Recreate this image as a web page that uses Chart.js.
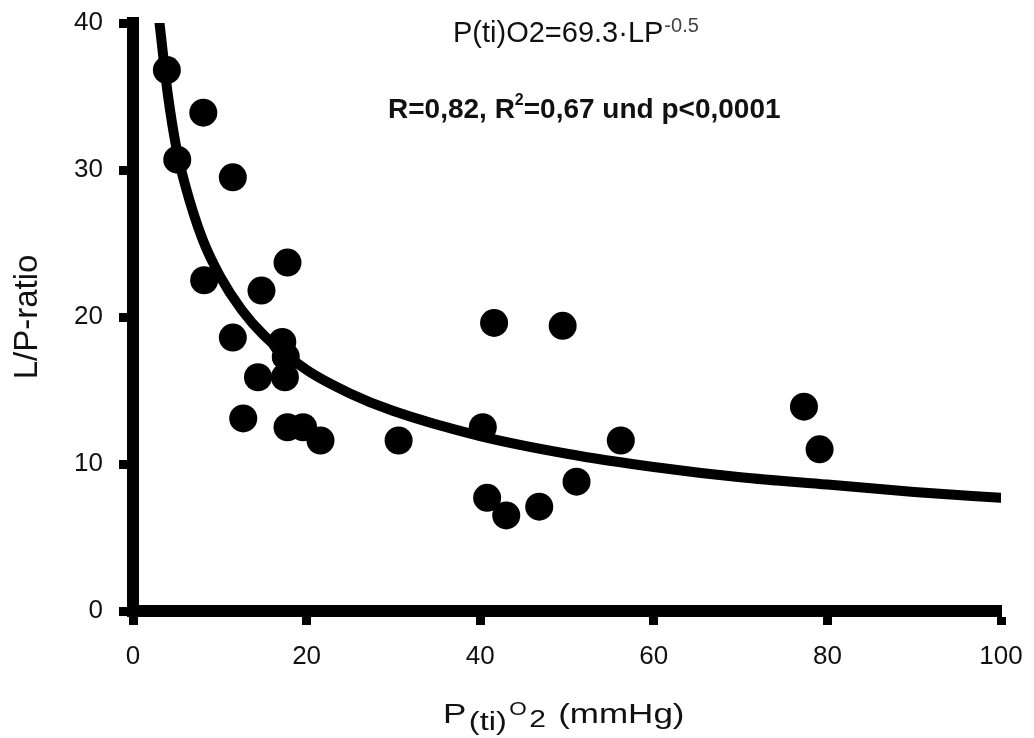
<!DOCTYPE html>
<html>
<head>
<meta charset="utf-8">
<script src="https://cdn.jsdelivr.net/npm/chart.js@4"></script>
<style>
  html, body { margin: 0; padding: 0; background: #fff; }
  #wrap { width: 1034px; height: 738px; }
</style>
</head>
<body>
<div id="wrap"><canvas id="lpChart" width="1034" height="738"></canvas></div>
<script>
// measured values (PtiO2 in mmHg vs L/P-ratio)
const pO2 = [3.9, 8.1, 5.1, 11.5, 8.2, 14.8, 17.8, 11.5, 17.2, 17.6, 14.4, 17.5, 12.7, 17.8, 19.6, 21.6, 30.6, 40.3, 41.6, 49.5, 40.8, 43.0, 46.8, 51.1, 56.2, 77.3, 79.1];
const lpRatio = [36.8, 33.9, 30.7, 29.5, 22.5, 21.8, 23.7, 18.6, 18.3, 17.3, 15.9, 15.9, 13.1, 12.5, 12.5, 11.6, 11.6, 12.5, 19.6, 19.4, 7.7, 6.5, 7.1, 8.8, 11.6, 13.9, 11.0];

// fitted curve
const fitX = [3.05, 4, 5, 6, 8, 10, 12.5, 15, 20, 25, 30, 40, 50, 60, 70, 80, 90, 100];
const fitY = [40, 35.2, 31.5, 29.0, 25.3, 22.8, 20.5, 18.8, 16.4, 14.8, 13.6, 11.9, 10.7, 9.8, 9.1, 8.6, 8.1, 7.7];

const xTicks = [0, 20, 40, 60, 80, 100];
const yTicks = [0, 10, 20, 30, 40];

const eqText = 'P(ti)O2=69.3\u00b7LP';
const eqExp = '-0.5';
const statsParts = ['R=0,82, R', '2', '=0,67 und p<0,0001'];
const yTitle = 'L/P-ratio';

const FONT = '"Liberation Sans", Arial, sans-serif';

// annotation + x title with sub/superscripts
const textLayer = {
    id: 'textLayer',
    afterDraw(chart) {
        const ctx = chart.ctx;
        ctx.save();
        ctx.fillStyle = '#111';
        ctx.textAlign = 'left';
        ctx.textBaseline = 'alphabetic';

        // equation line
        ctx.font = '29px ' + FONT;
        ctx.fillText(eqText, 453, 42);
        let x = 453 + ctx.measureText(eqText).width + 1;
        ctx.font = '20px ' + FONT;
        ctx.fillStyle = '#444';
        ctx.fillText(eqExp, x, 32);

        // statistics line
        ctx.fillStyle = '#111';
        ctx.font = 'bold 28px ' + FONT;
        x = 388;
        ctx.fillText(statsParts[0], x, 118);
        x += ctx.measureText(statsParts[0]).width;
        ctx.font = 'bold 16px ' + FONT;
        ctx.fillText(statsParts[1], x, 105);
        x += ctx.measureText(statsParts[1]).width;
        ctx.font = 'bold 28px ' + FONT;
        ctx.fillText(statsParts[2], x, 118);

        // x axis title: P(ti)O2 (mmHg), slightly widened like the original
        const sx = 1.25;
        const pieces = [
            { t: 'P', size: 28, dy: 0 },
            { t: '(ti)', size: 26, dy: 7 },
            { t: 'O', size: 18, dy: -8 },
            { t: '2', size: 24, dy: 4 },
            { t: ' (mmHg)', size: 28, dy: 0 }
        ];
        let total = 0;
        pieces.forEach(p => {
            ctx.font = p.size + 'px ' + FONT;
            p.w = ctx.measureText(p.t).width + 2;
            total += p.w;
        });
        ctx.translate(565 - total * sx / 2, 0);
        ctx.scale(sx, 1);
        x = 0;
        pieces.forEach(p => {
            ctx.font = p.size + 'px ' + FONT;
            ctx.fillText(p.t, x, 723 + p.dy);
            x += p.w;
        });
        ctx.restore();
    }
};

const ctx = document.getElementById('lpChart').getContext('2d');
const lpChart = new Chart(ctx, {
    type: 'scatter',
    data: {
        datasets: [{
            label: 'Messwerte',
            data: pO2.map((v, i) => ({ x: v, y: lpRatio[i] })),
            backgroundColor: '#000',
            borderWidth: 0,
            pointRadius: 14,
            pointHoverRadius: 14
        }, {
            type: 'line',
            label: 'Fit',
            data: fitX.map((v, i) => ({ x: v, y: fitY[i] })),
            borderColor: '#000',
            borderWidth: 10,
            pointRadius: 0,
            fill: false,
            cubicInterpolationMode: 'monotone',
            borderCapStyle: 'round'
        }]
    },
    options: {
        responsive: false,
        animation: false,
        events: [],
        layout: {
            padding: { top: 23, right: 33, left: 0, bottom: 0 }
        },
        plugins: {
            legend: { display: false },
            tooltip: { enabled: false }
        },
        scales: {
            x: {
                type: 'linear',
                min: 0,
                max: 100,
                afterFit: s => { s.height = 127; s.paddingLeft = 0; s.paddingRight = 0; },
                afterBuildTicks: s => { s.ticks = xTicks.map(v => ({ value: v })); },
                border: { display: true, color: '#000', width: 12 },
                grid: {
                    drawOnChartArea: false,
                    drawTicks: true,
                    tickLength: 14,
                    tickWidth: 9,
                    tickColor: '#000'
                },
                ticks: {
                    padding: 16,
                    color: '#111',
                    font: { family: FONT, size: 26 }
                }
            },
            y: {
                min: 0,
                max: 40,
                afterFit: s => { s.width = 133; s.paddingTop = 0; s.paddingBottom = 0; },
                afterBuildTicks: s => { s.ticks = yTicks.map(v => ({ value: v })); },
                border: { display: true, color: '#000', width: 12 },
                grid: {
                    drawOnChartArea: false,
                    drawTicks: true,
                    tickLength: 14,
                    tickWidth: 9,
                    tickColor: '#000'
                },
                ticks: {
                    padding: 16,
                    color: '#111',
                    font: { family: FONT, size: 26 }
                },
                title: {
                    display: true,
                    text: yTitle,
                    color: '#111',
                    padding: { top: 8, bottom: 0 },
                    font: { family: FONT, size: 33 }
                }
            }
        }
    },
    plugins: [textLayer]
});
</script>
</body>
</html>
